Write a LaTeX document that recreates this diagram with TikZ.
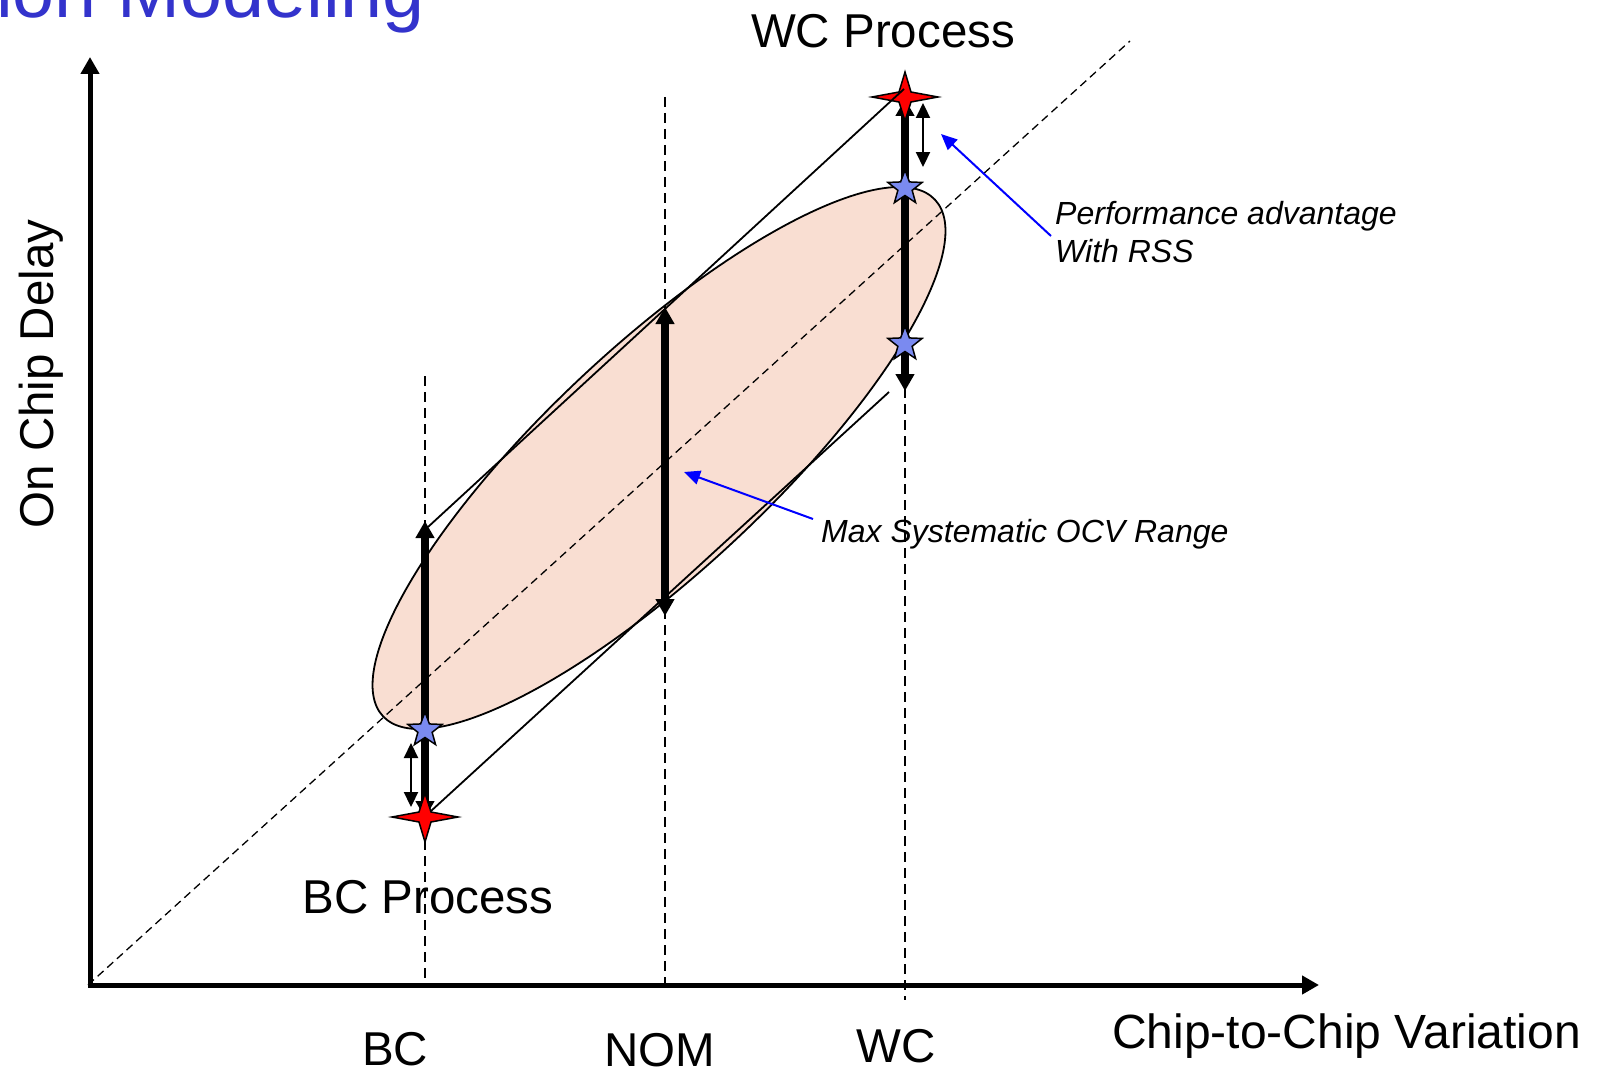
\documentclass[tikz,border=0pt]{standalone}
\usepackage{fontspec}
\setmainfont{Liberation Sans}
\usetikzlibrary{arrows.meta,shapes.geometric}
\definecolor{titleblue}{RGB}{51,51,204}
\definecolor{starblue}{RGB}{122,138,240}
\definecolor{ellfill}{RGB}{249,222,210}
\begin{document}
\begin{tikzpicture}[x=1pt,y=-1pt,
  axisline/.style={line width=5pt,-{Triangle[length=17pt,width=18pt]}},
  guideline/.style={line width=1.2pt, dash pattern=on 10pt off 6pt},
  diagline/.style={line width=1.3pt, dash pattern=on 8pt off 5pt},
  tangentline/.style={line width=1.8pt},
  rangebar/.style={line width=8pt,{Triangle[length=17pt,width=18pt]}-{Triangle[length=17pt,width=18pt]}},
  gaparrow/.style={line width=2.2pt,{Triangle[length=15pt,width=14pt]}-{Triangle[length=15pt,width=14pt]}},
  calloutarrow/.style={line width=2pt, blue, -{Triangle[length=16pt,width=14pt]}},
  bluestar/.style={star, star points=5, star point ratio=2.4, minimum size=36pt, inner sep=0pt, draw=black, line width=1.5pt, fill=starblue},
  redstar/.style={fill=red, draw=black, line width=1.5pt},
  bigtext/.style={font=\fontsize{47.5pt}{57pt}\selectfont, inner sep=0pt},
  notetext/.style={font=\fontsize{32pt}{38pt}\selectfont\itshape, inner sep=0pt},
]
\useasboundingbox (0,0) rectangle (1603,1070);

% ellipse region
\node[ellipse, draw, line width=1.8pt, fill=ellfill, minimum width=756pt, minimum height=224pt, inner sep=0pt, rotate=43.1] (ell) at (659,458) {};

% coordinates
\coordinate (o) at (88,985);
\coordinate (ytip) at (90,57);
\coordinate (ybase) at (90,987);
\coordinate (xtip) at (1319,985);
\coordinate (dEnd) at (1130,41);
\coordinate (bcTop) at (425,376);
\coordinate (bcBot) at (425,985);
\coordinate (nomTop) at (665,97);
\coordinate (nomBot) at (665,985);
\coordinate (wcTop) at (905,100);
\coordinate (wcBot) at (905,1000);
\coordinate (wcP) at (905,97);
\coordinate (bcP) at (425,817);

% guides
\draw[diagline] (o) -- (dEnd);
\draw[guideline] (bcTop) -- (bcBot);
\draw[guideline] (nomTop) -- (nomBot);
\draw[guideline] (wcTop) -- (wcBot);

% axes
\draw[axisline] (ybase) -- (ytip);
\draw[axisline] (o) -- (xtip);

% thick ranges
\coordinate (bcR1) at (425,818);
\coordinate (bcR2) at (425,521);
\coordinate (nomR1) at (665,307);
\coordinate (nomR2) at (665,616);
\coordinate (wcR1) at (905,99);
\coordinate (wcR2) at (905,391);
\draw[rangebar] (bcR1) -- (bcR2);
\draw[rangebar] (nomR1) -- (nomR2);
\draw[rangebar] (wcR1) -- (wcR2);

% red stars
\draw[redstar, shift={(wcP)}] (-33,0) -- (-6,-5) -- (0,-25) -- (6,-5) -- (33,0) -- (6,5) -- (0,24) -- (-6,5) -- cycle;
\draw[redstar, shift={(bcP)}] (-33,0) -- (-6,-5) -- (0,-24) -- (6,-5) -- (33,0) -- (6,5) -- (0,25) -- (-6,5) -- cycle;

% tangent lines
\coordinate (t1a) at (428,527);
\coordinate (t1b) at (904,89);
\coordinate (t2a) at (431,811);
\coordinate (t2b) at (889,392);
\draw[tangentline] (t1a) -- (t1b);
\draw[tangentline] (t2a) -- (t2b);

% blue stars
\node[bluestar] (s1) at (905,188) {};
\node[bluestar] (s2) at (905,344) {};
\node[bluestar] (s3) at (425,730) {};

% gap arrows
\coordinate (g1a) at (923,103);
\coordinate (g1b) at (923,167);
\coordinate (g2a) at (411,743);
\coordinate (g2b) at (411,807);
\draw[gaparrow] (g1a) -- (g1b);
\draw[gaparrow] (g2a) -- (g2b);

% texts
\node[font=\fontsize{75.5pt}{80pt}\selectfont, text=titleblue, anchor=base west, inner sep=0pt] (title) at (-4,18) {ion Modeling};
\node[bigtext, anchor=base] (wcproc) at (883,48) {WC Process};
\node[bigtext, anchor=base] (bcproc) at (428,913) {BC Process};
\node[bigtext, anchor=base] (bcl) at (395,1065) {BC};
\node[bigtext, anchor=base] (noml) at (660,1066) {NOM};
\node[bigtext, anchor=base] (wcl) at (896,1062) {WC};
\node[bigtext, font=\fontsize{48pt}{57pt}\selectfont, anchor=base west] (xl) at (1112,1048) {Chip-to-Chip Variation};
\node[bigtext, rotate=90, anchor=base] (yl) at (53,374) {On Chip Delay};
\node[notetext, anchor=base west] (perf) at (1055,224) {Performance advantage};
\node[notetext, anchor=base west] (rss) at (1055,262) {With RSS};
\node[notetext, anchor=base west] (maxr) at (821,542) {Max Systematic OCV Range};

% callouts
\coordinate (c1a) at (1051,236);
\coordinate (c1b) at (941,134);
\coordinate (c2a) at (813,519);
\coordinate (c2b) at (684,472);
\draw[calloutarrow] (c1a) -- (c1b);
\draw[calloutarrow] (c2a) -- (c2b);
\end{tikzpicture}
\end{document}
